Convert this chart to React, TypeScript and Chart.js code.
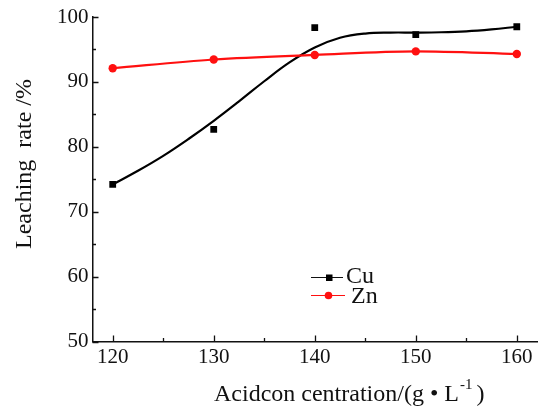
import React, { useEffect, useRef } from "react";
import { Chart, registerables } from "chart.js";

Chart.register(...registerables);

// ---- data ----
const concentrations = [120, 130, 140, 150, 160];
const cuValues = [74.2, 82.7, 98.35, 97.3, 98.5];
const znValues = [92.1, 93.45, 94.15, 94.7, 94.3];
// smoothed fit curve drawn through the Cu points
const cuFitX = [120, 122.5, 125, 127.5, 130, 132.5, 135, 137.5, 140, 142.5, 145, 147.5, 150, 152.5, 155, 157.5, 160];
const cuFitY = [74.2, 76.3, 78.6, 81.2, 84.0, 87.0, 90.1, 93.0, 95.3, 96.8, 97.45, 97.6, 97.6, 97.65, 97.8, 98.1, 98.5];
const yMajorTicks = [50, 60, 70, 80, 90, 100];
const yMinorTicks = [55, 65, 75, 85, 95];
const xMajorTicks = [120, 130, 140, 150, 160];
const xMinorTicks = [125, 135, 145, 155];
const seriesNames = ["Cu", "Zn"];
const yTitle = "Leaching  rate /%";
const xTitleMain = "Acidcon centration/(g \u2022 L";
const xTitleSup = "-1";
const xTitleEnd = ")";

const SERIF = '"Liberation Serif", "Times New Roman", serif';
const INK = "#111111";
const RED = "#ff1010";

export default function App() {
  const ref = useRef<HTMLCanvasElement>(null);

  useEffect(() => {
    const canvas = ref.current;
    if (!canvas) return;

    const decor = {
      id: "decor",
      afterDraw(chart: any) {
        const ctx = chart.ctx as CanvasRenderingContext2D;
        const xs = chart.scales.x;
        const ys = chart.scales.y;
        const area = chart.chartArea;
        ctx.save();
        ctx.strokeStyle = INK;
        ctx.lineWidth = 1.3;
        ctx.beginPath();
        yMajorTicks.forEach((v) => {
          const p = Math.round(ys.getPixelForValue(v)) + 0.5;
          ctx.moveTo(area.left, p);
          ctx.lineTo(area.left + 6, p);
        });
        yMinorTicks.forEach((v) => {
          const p = Math.round(ys.getPixelForValue(v)) + 0.5;
          ctx.moveTo(area.left, p);
          ctx.lineTo(area.left + 3.5, p);
        });
        xMajorTicks.forEach((v) => {
          const p = Math.round(xs.getPixelForValue(v)) + 0.5;
          ctx.moveTo(p, area.bottom);
          ctx.lineTo(p, area.bottom - 6);
        });
        xMinorTicks.forEach((v) => {
          const p = Math.round(xs.getPixelForValue(v)) + 0.5;
          ctx.moveTo(p, area.bottom);
          ctx.lineTo(p, area.bottom - 3.5);
        });
        ctx.stroke();

        // legend
        ctx.lineWidth = 1;
        ctx.strokeStyle = INK;
        ctx.beginPath();
        ctx.moveTo(311, 277.5);
        ctx.lineTo(343, 277.5);
        ctx.stroke();
        ctx.fillStyle = "#000";
        ctx.fillRect(326, 274.5, 6.5, 6.5);
        ctx.strokeStyle = RED;
        ctx.beginPath();
        ctx.moveTo(311, 295.5);
        ctx.lineTo(345, 295.5);
        ctx.stroke();
        ctx.fillStyle = RED;
        ctx.beginPath();
        ctx.arc(328.5, 295.5, 3.8, 0, Math.PI * 2);
        ctx.fill();
        ctx.fillStyle = INK;
        ctx.font = `24px ${SERIF}`;
        ctx.textAlign = "left";
        ctx.textBaseline = "middle";
        ctx.fillText(seriesNames[0], 346, 277);
        ctx.fillText(seriesNames[1], 351, 297);

        // y title
        ctx.save();
        ctx.translate(25, 164);
        ctx.rotate(-Math.PI / 2);
        ctx.textAlign = "center";
        ctx.textBaseline = "middle";
        ctx.font = `24px ${SERIF}`;
        ctx.fillText(yTitle, 0, 0);
        ctx.restore();

        // x title with superscript
        ctx.textAlign = "left";
        ctx.textBaseline = "alphabetic";
        ctx.font = `24px ${SERIF}`;
        const x0 = 214;
        const base = 401;
        ctx.fillText(xTitleMain, x0, base);
        const w = ctx.measureText(xTitleMain).width;
        ctx.font = `15px ${SERIF}`;
        ctx.fillText(xTitleSup, x0 + w + 1, base - 12);
        const w2 = ctx.measureText(xTitleSup).width;
        ctx.font = `24px ${SERIF}`;
        ctx.fillText(xTitleEnd, x0 + w + w2 + 5, base);
        ctx.restore();
      },
    };

    const chart = new Chart(canvas, {
      type: "scatter",
      data: {
        datasets: [
          {
            label: seriesNames[1],
            data: concentrations.map((x, i) => ({ x, y: znValues[i] })),
            showLine: true,
            borderColor: RED,
            backgroundColor: RED,
            borderWidth: 2.2,
            pointRadius: 4.2,
            pointStyle: "circle",
            pointBorderWidth: 0,
            cubicInterpolationMode: "monotone",
          },
          {
            label: "Cu fit",
            data: cuFitX.map((x, i) => ({ x, y: cuFitY[i] })),
            showLine: true,
            borderColor: "#000",
            backgroundColor: "#000",
            borderWidth: 2.2,
            pointRadius: 0,
            tension: 0.4,
          },
          {
            label: seriesNames[0],
            data: concentrations.map((x, i) => ({ x, y: cuValues[i] })),
            showLine: false,
            borderColor: "#000",
            backgroundColor: "#000",
            pointStyle: "rect",
            pointRadius: 4.8,
            pointBorderWidth: 0,
          },
        ],
      },
      options: {
        responsive: false,
        animation: false,
        layout: { padding: { left: 0, top: 17, right: 9, bottom: 0 } },
        plugins: { legend: { display: false }, tooltip: { enabled: false } },
        scales: {
          x: {
            type: "linear",
            min: 118,
            max: 162,
            afterBuildTicks: (s: any) => {
              s.ticks = xMajorTicks.map((v) => ({ value: v }));
            },
            afterFit: (s: any) => {
              s.height = 67.5;
            },
            ticks: {
              font: { family: SERIF, size: 21 },
              color: INK,
              padding: 3,
              maxRotation: 0,
              autoSkip: false,
            },
            grid: { display: false, drawTicks: false },
            border: { display: true, color: INK, width: 1.5 },
          },
          y: {
            type: "linear",
            min: 50,
            max: 100,
            afterBuildTicks: (s: any) => {
              s.ticks = yMajorTicks.map((v) => ({ value: v }));
            },
            afterFit: (s: any) => {
              s.width = 92.5;
            },
            ticks: {
              font: { family: SERIF, size: 21 },
              color: INK,
              padding: 4,
              autoSkip: false,
            },
            grid: { display: false, drawTicks: false },
            border: { display: true, color: INK, width: 1.5 },
          },
        },
      },
      plugins: [decor],
    } as any);

    return () => chart.destroy();
  }, []);

  return (
    <div style={{ position: "fixed", left: 0, top: 0, width: 546, height: 409, background: "#fff" }}>
      <canvas ref={ref} width={546} height={409} style={{ display: "block" }} />
    </div>
  );
}
